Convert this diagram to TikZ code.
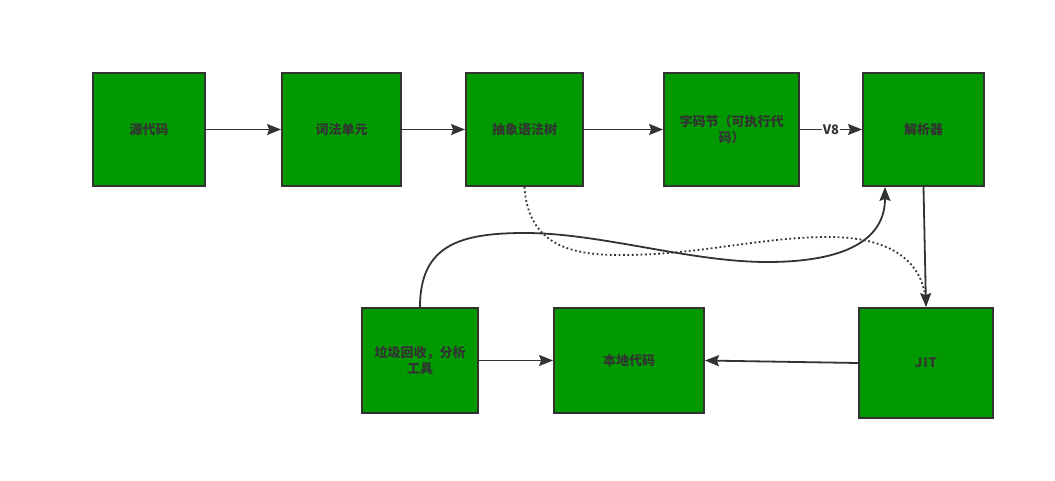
\documentclass[tikz,border=0pt]{standalone}
\usepackage{fontspec}
\setmainfont{Noto Sans CJK SC}
\usetikzlibrary{arrows.meta}
\definecolor{boxgreen}{HTML}{009900}
\definecolor{ink}{HTML}{333333}
\tikzset{
  box/.style={draw=ink, fill=boxgreen, line width=1.8pt, inner sep=0pt,
    align=center, text=ink, font=\fontsize{13}{16}\selectfont\bfseries},
  conn/.style={draw=ink, line width=1.8pt, -{Stealth[length=14pt,width=11pt,inset=2pt]}},
  dotconn/.style={draw=ink, line width=1.8pt, dash pattern=on 1.8pt off 2.6pt},
  lbl/.style={fill=white, text=ink, inner sep=1pt, font=\fontsize{13}{15}\selectfont\bfseries}
}
\begin{document}
\begin{tikzpicture}[x=1pt,y=-1pt]
\useasboundingbox (0,0) rectangle (1055,481);
\node[box, minimum width=112pt, minimum height=113pt] (A) at (149,129.5) {源代码};
\node[box, minimum width=119pt, minimum height=113pt] (B) at (341.5,129.5) {词法单元};
\node[box, minimum width=117pt, minimum height=113pt] (C) at (524.5,129.5) {抽象语法树};
\node[box, minimum width=135pt, minimum height=113pt] (D) at (731.5,129.5) {字码节（可执行代\\码）};
\node[box, minimum width=121pt, minimum height=113pt] (E) at (923.5,129.5) {解析器};
\node[box, minimum width=116pt, minimum height=105pt] (F) at (420,360.5) {垃圾回收，分析\\工具};
\node[box, minimum width=150pt, minimum height=105pt] (G) at (629,360.5) {本地代码};
\node[box, minimum width=134pt, minimum height=110pt] (H) at (926,363) {J\kern0.8pt I\kern0.8pt T};
\coordinate (Ein) at ([xshift=-38.5pt]E.south);

\draw[conn] (A) -- (B);
\draw[conn] (B) -- (C);
\draw[conn] (C) -- (D);
\draw[conn] (D) -- node[lbl] {V8} (E);
\draw[conn] (F) -- (G);
\draw[conn] (H.west) -- (G.east);
\draw[dotconn] (C.south) .. controls (528,250) and (580,255) .. (621,255)
  .. controls (700,255) and (760,237) .. (829,237)
  .. controls (895,237) and (926,265) .. (H.north);
\draw[conn] (E.south) -- (H.north);
\draw[conn] (F.north) .. controls (420,245) and (460,233) .. (525,233)
  .. controls (600,233) and (690,262) .. (767,262)
  .. controls (845,262) and (885,240) .. (Ein);
\end{tikzpicture}
\end{document}
